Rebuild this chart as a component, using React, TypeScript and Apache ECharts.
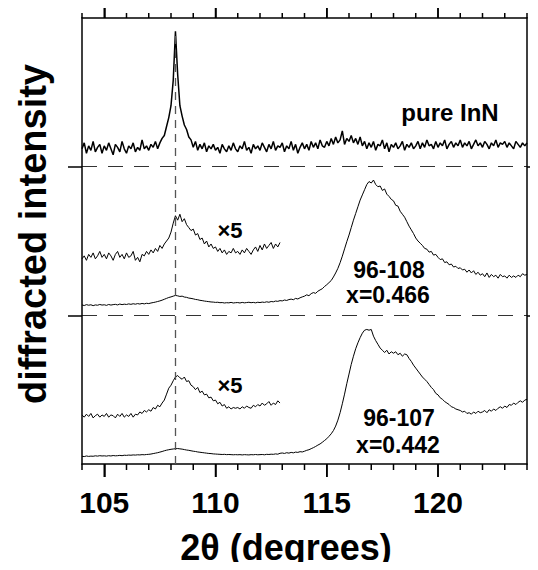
import React, { useEffect, useRef } from "react";
import * as echarts from "echarts";

// 2θ grid of the scans (degrees)
const X_START = 104.0;
const X_STEP = 0.1;

// pure InN scan, 104.0 … 124.0 (panel units, 0–100)
const pureInN = [
  12, 16, 9, 14, 11, 17, 10, 13, 15, 9,
  14, 11, 16, 12, 8, 15, 13, 10, 17, 12,
  9, 14, 12, 16, 10, 13, 11, 18, 12, 14,
  11, 15, 13, 17, 12, 16, 19, 21, 27, 33,
  41, 58, 91, 62, 41, 34, 28, 25, 20, 18,
  13, 17, 11, 15, 12, 16, 10, 14, 12, 15,
  11, 13, 9, 15, 12, 10, 14, 11, 16, 12,
  10, 14, 12, 17, 11, 13, 9, 15, 12, 14,
  11, 16, 13, 10, 15, 12, 17, 11, 14, 13,
  16, 10, 14, 12, 17, 11, 15, 9, 13, 16,
  12, 15, 11, 17, 13, 16, 12, 18, 14, 13,
  17, 14, 19, 15, 20, 16, 18, 24, 15, 19,
  17, 21, 16, 19, 15, 20, 14, 17, 12, 16,
  13, 17, 11, 15, 14, 18, 12, 16, 10, 15,
  13, 16, 12, 14, 17, 11, 15, 13, 16, 12,
  14, 17, 12, 16, 13, 18, 14, 15, 12, 17,
  13, 16, 14, 18, 12, 15, 17, 13, 16, 14,
  18, 13, 16, 14, 17, 12, 15, 18, 14, 16,
  13, 17, 15, 12, 16, 14, 18, 13, 16, 15,
  17, 13, 16, 14, 12, 17, 15, 13, 16, 14,
  16,
];

// 96-108 (x=0.466), ×5 trace 104.0 … 112.9
const s108x5 = [
  38, 40, 37, 41, 39, 42, 38, 40, 43, 39,
  41, 38, 42, 40, 37, 41, 43, 39, 41, 38,
  42, 39, 40, 43, 37, 39, 36, 41, 40, 43,
  41, 44, 42, 45, 43, 47, 45, 48, 50, 52,
  56, 62, 67, 64, 68, 63, 65, 61, 59, 57,
  58, 54, 55, 51, 52, 48, 50, 46, 48, 45,
  46, 43, 45, 42, 44, 41, 43, 42, 45, 42,
  43, 41, 44, 42, 45, 43, 41, 44, 46, 43,
  47, 44, 48, 45, 47, 49, 45, 48, 46, 49,
];

// 96-108 (x=0.466), full scan 104.0 … 124.0
const s108 = [
  7, 6.6, 7.2, 6.8, 7.1, 6.5, 7, 6.8, 7.3, 6.9,
  7.1, 6.7, 7.3, 6.9, 7.2, 7.4, 7, 7.6, 7.2, 7.5,
  7.3, 7.7, 7.4, 7.8, 7.5, 7.9, 7.6, 8, 7.7, 8.1,
  7.9, 8.3, 8.6, 8.9, 9.3, 9.7, 10.2, 10.8, 11.4, 12,
  12.4, 12.9, 13.4, 13.1, 12.7, 12.9, 12.3, 12.1, 11.6, 11.4,
  11.1, 10.7, 10.5, 10.1, 9.9, 9.6, 9.4, 9.2, 9, 8.9,
  8.7, 8.8, 8.5, 8.6, 8.3, 8.5, 8.4, 8.7, 8.3, 8.5,
  8.6, 8.3, 8.7, 8.4, 8.6, 8.8, 8.5, 8.7, 8.4, 8.8,
  8.6, 8.9, 8.7, 9.1, 8.8, 9.3, 9.1, 9.6, 9.4, 9.9,
  9.7, 10.3, 10, 10.6, 10.9, 10.5, 11.4, 11, 11.8, 12.4,
  12.9, 13.8, 13.2, 14.6, 15.3, 14.8, 16.2, 17.1, 17.9, 19.4,
  20.6, 22, 23.4, 25.8, 28.5, 31.6, 35.4, 39.8, 44.7, 49.5,
  54, 59, 64, 68.5, 73, 77.5, 81, 84.5, 88, 90,
  89, 91, 88, 86.5, 87, 84, 85, 81.5, 80, 78,
  77, 74, 73.5, 70, 68, 66, 63, 60, 57.5, 55,
  52, 50, 48.5, 47, 45, 44.5, 42.5, 43, 40.5, 41,
  39, 37.5, 38, 35.5, 36, 34, 34.5, 32.5, 33, 31.5,
  32, 30.5, 31, 29, 30.5, 28.5, 30, 27.5, 29, 27,
  28, 26, 28.5, 25.5, 27.5, 26, 27, 25, 27.5, 26,
  26.5, 25, 27, 25.5, 26.5, 25.5, 27, 26, 28, 27,
  27.5,
];

// 96-107 (x=0.442), ×5 trace 104.0 … 112.9
const s107x5 = [
  33, 31.5, 33.5, 32, 34, 31, 32.5, 33.5, 31.5, 33,
  32, 34, 31.5, 33, 32.5, 31, 33.5, 32, 34, 31.5,
  33, 32, 34, 31.5, 33.5, 33, 35, 34, 36, 35,
  36.5, 35.5, 38, 37, 39.5, 38.5, 41, 43, 47, 51,
  53, 56, 58.5, 59.5, 58, 57, 58.5, 55.5, 56, 53,
  52, 50, 51.5, 48, 49, 46.5, 47, 44.5, 45, 42.5,
  43, 40.5, 41.5, 39, 40, 37.5, 38.5, 37, 38, 37.5,
  38, 37, 38.5, 37.5, 39, 38, 37.5, 39.5, 38.5, 40,
  39, 41, 39.5, 40.5, 42, 39.5, 41, 40, 42.5, 41,
];

// 96-107 (x=0.442), full scan 104.0 … 124.0
const s107 = [
  5.2, 5, 5.4, 5.1, 5.3, 5.2, 5.5, 5.3, 5.6, 5.4,
  5.5, 5.3, 5.6, 5.4, 5.7, 5.5, 5.6, 5.8, 5.6, 5.9,
  5.8, 6, 5.9, 6.1, 6, 6.2, 6.1, 6.3, 6.2, 6.4,
  6.5, 6.7, 7, 7.3, 7.6, 8, 8.4, 8.9, 9.3, 9.6,
  9.9, 10.1, 10.3, 10.4, 10.2, 10, 9.7, 9.4, 9.2, 8.9,
  8.6, 8.4, 8.1, 7.9, 7.7, 7.5, 7.3, 7.1, 7, 6.8,
  6.7, 6.6, 6.5, 6.4, 6.5, 6.3, 6.4, 6.3, 6.2, 6.3,
  6.2, 6.3, 6.1, 6.3, 6.2, 6.1, 6.3, 6.2, 6.4, 6.2,
  6.3, 6.4, 6.2, 6.5, 6.4, 6.6, 6.5, 6.8, 6.6, 7.2,
  7.4, 7.1, 7.6, 7.3, 7.8, 7.5, 8, 7.8, 8.3, 8.1,
  8.6, 9.2, 9.6, 10.3, 11, 11.8, 12.7, 13.5, 14.6, 15.8,
  17, 18.6, 20.3, 22.5, 25.5, 29.5, 34.5, 40.5, 47, 54,
  60.5, 67, 72.5, 77.5, 81.5, 85, 88, 90, 90.5, 90,
  90.5, 86, 83, 80.5, 78, 76.5, 75, 76.5, 74, 75.5,
  74.5, 75.5, 73.5, 74.5, 72.5, 74, 73.5, 71, 69, 66.5,
  64.5, 62.5, 60.5, 58.5, 57, 55.5, 53.5, 51.5, 50, 47.5,
  46.5, 44.5, 43.5, 42, 41, 40, 38.5, 38, 37, 36.5,
  36, 35, 35.5, 34, 34.5, 33.5, 35, 34, 35.5, 34.5,
  35, 36, 34.5, 36.5, 35.5, 37, 36, 37.5, 38.5, 37.5,
  39, 38, 40, 39.5, 41, 40, 41.5, 42.5, 41.5, 43,
  43.5,
];

// panel baselines (vertical stacking offsets)
const OFFSET_TOP = 200;
const OFFSET_MID = 100;
const OFFSET_BOT = 0;

// x-axis tick positions (degrees)
const MAJOR_TICKS = [105, 110, 115, 120];
const MINOR_TICKS = [
  104, 106, 107, 108, 109, 111, 112, 113, 114,
  116, 117, 118, 119, 121, 122, 123, 124,
];
const PANEL_SEPARATORS = [100, 200];
const REFERENCE_2THETA = 108.2; // InN peak position
const PEAK_TOP = 291;

const toPairs = (vals: number[], offset: number) =>
  vals.map((v, i) => [Number((X_START + i * X_STEP).toFixed(1)), v + offset]);

const FONT = '"Liberation Sans", Arial, sans-serif';

export default function App() {
  const ref = useRef<HTMLDivElement>(null);

  useEffect(() => {
    if (!ref.current) return;
    const chart = echarts.init(ref.current, undefined, { renderer: "svg" });

    const lineBase = (data: number[][], width = 1) => ({
      type: "line",
      data,
      xAxisIndex: 0,
      yAxisIndex: 0,
      showSymbol: false,
      symbol: "none",
      smooth: false,
      lineStyle: { color: "#000", width },
      silent: true,
    });

    const mkAxisLine = () => ({ show: true, onZero: false, lineStyle: { color: "#000", width: 1.5 } });
    const tickStyle = { color: "#000", width: 1.5 };

    const txt = (text: string, x: number, y: number, size: number, extra: any = {}) => ({
      type: "text",
      x,
      y,
      silent: true,
      ...extra,
      style: {
        text,
        fill: "#000",
        font: `bold ${size}px ${FONT}`,
        align: "center",
        verticalAlign: "middle",
      },
    });

    const textEls = [
      txt("diffracted intensity", 33, 234, 38, { rotation: Math.PI / 2 }),
      txt("2θ (degrees)", 286, 547, 36),
      txt("pure InN", 450, 112, 24),
      txt("×5", 230, 230, 22),
      txt("×5", 230, 385, 22),
      txt("96-108", 389, 270, 23),
      txt("x=0.466", 388, 295, 23),
      txt("96-107", 399, 418, 23),
      txt("x=0.442", 398, 445, 23),
    ];

    const option: any = {
      animation: false,
      backgroundColor: "#fff",
      grid: { left: 82, right: 11, top: 18, bottom: 106 },
      xAxis: [
        {
          type: "value",
          position: "bottom",
          min: 104,
          max: 124,
          axisLine: mkAxisLine(),
          axisTick: { show: true, length: 13, customValues: MAJOR_TICKS, lineStyle: tickStyle },
          axisLabel: {
            show: true,
            customValues: MAJOR_TICKS,
            margin: 23,
            color: "#000",
            fontFamily: FONT,
            fontWeight: "bold",
            fontSize: 30,
          },
          splitLine: { show: false },
        },
        {
          type: "value",
          position: "top",
          min: 104,
          max: 124,
          axisLine: mkAxisLine(),
          axisTick: { show: true, length: 14, customValues: MAJOR_TICKS, lineStyle: tickStyle },
          axisLabel: { show: false },
          splitLine: { show: false },
        },
      ],
      yAxis: [
        {
          type: "value",
          position: "left",
          min: 0,
          max: 300,
          interval: 100,
          axisLine: mkAxisLine(),
          axisTick: { show: true, length: 14, customValues: PANEL_SEPARATORS, lineStyle: tickStyle },
          axisLabel: { show: false },
          splitLine: {
            show: true,
            lineStyle: { color: "#333", width: 1, type: [15, 11] },
          },
        },
        {
          type: "value",
          position: "right",
          min: 0,
          max: 300,
          interval: 100,
          axisLine: mkAxisLine(),
          axisTick: { show: true, length: 9, customValues: PANEL_SEPARATORS, lineStyle: tickStyle },
          axisLabel: { show: false },
          splitLine: { show: false },
        },
      ],
      series: [
        {
          ...lineBase(toPairs(s107, OFFSET_BOT), 1),
          markLine: {
            silent: true,
            symbol: ["none", "none"],
            label: { show: false },
            lineStyle: { color: "#555", width: 1.3, type: [8, 6] },
            data: [
              [
                { coord: [REFERENCE_2THETA, 0] },
                { coord: [REFERENCE_2THETA, PEAK_TOP] },
              ],
            ],
          },
        },
        lineBase(toPairs(s107x5, OFFSET_BOT), 1),
        lineBase(toPairs(s108, OFFSET_MID), 1),
        lineBase(toPairs(s108x5, OFFSET_MID), 1),
        lineBase(toPairs(pureInN, OFFSET_TOP), 1.5),
      ],
      graphic: textEls,
    };

    chart.setOption(option);

    // x tick marks on the bottom and top frame as thin filled bars, placed through the x/y scales
    const tickEls: any[] = [];
    const addTicks = (values: number[], bottomLen: number, topLen: number) => {
      values.forEach((v) => {
        const b = chart.convertToPixel({ seriesIndex: 0 }, [v, 0]) as number[];
        const t = chart.convertToPixel({ seriesIndex: 0 }, [v, 300]) as number[];
        if (!b || !t || !isFinite(b[0]) || !isFinite(b[1]) || !isFinite(t[1])) return;
        const w = 1.5;
        tickEls.push({
          type: "rect",
          silent: true,
          z: 100,
          shape: { x: b[0] - w / 2, y: b[1], width: w, height: bottomLen },
          style: { fill: "#000" },
        });
        tickEls.push({
          type: "rect",
          silent: true,
          z: 100,
          shape: { x: t[0] - w / 2, y: t[1] - topLen, width: w, height: topLen },
          style: { fill: "#000" },
        });
      });
    };
    addTicks(MAJOR_TICKS, 13, 14);
    addTicks(MINOR_TICKS, 6, 5);

    chart.setOption({ graphic: [...textEls, ...tickEls] }, { replaceMerge: ["graphic"] });

    return () => chart.dispose();
  }, []);

  return <div ref={ref} style={{ width: 538, height: 570, margin: -8 }} />;
}
